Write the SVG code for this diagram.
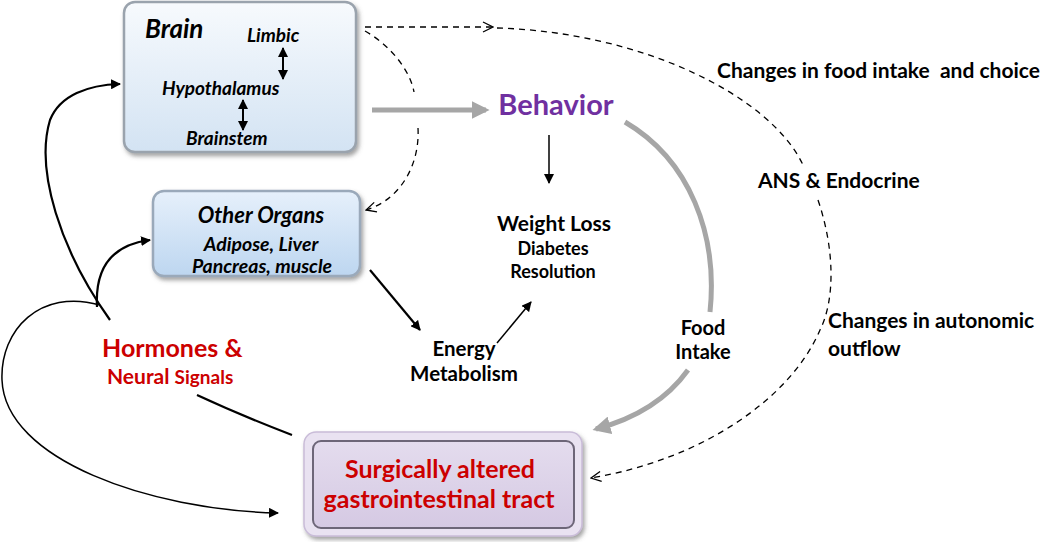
<svg xmlns="http://www.w3.org/2000/svg" width="1050" height="542" viewBox="0 0 1050 542">
<defs>
<linearGradient id="gBrain" x1="0" y1="0" x2="0" y2="1">
<stop offset="0" stop-color="#f7fafd"/><stop offset="1" stop-color="#d3e3f3"/>
</linearGradient>
<linearGradient id="gOrg" x1="0" y1="0" x2="0" y2="1">
<stop offset="0" stop-color="#e6f0fb"/><stop offset="1" stop-color="#bdd6f0"/>
</linearGradient>
<linearGradient id="gGI" x1="0" y1="0" x2="0" y2="1">
<stop offset="0" stop-color="#e4dcee"/><stop offset="1" stop-color="#d5c9e3"/>
</linearGradient>
<filter id="sh" x="-10%" y="-10%" width="125%" height="130%">
<feDropShadow dx="2" dy="3" stdDeviation="2" flood-color="#555" flood-opacity="0.55"/>
</filter>
<marker id="ab" viewBox="0 0 10 10" refX="9" refY="5" markerWidth="10" markerHeight="10" markerUnits="userSpaceOnUse" orient="auto">
<path d="M0,0 L10,5 L0,10 Z" fill="#000"/>
</marker>
<marker id="abs" viewBox="0 0 10 10" refX="9" refY="5" markerWidth="10" markerHeight="10" markerUnits="userSpaceOnUse" orient="auto-start-reverse">
<path d="M0,0 L10,5 L0,10 Z" fill="#000"/>
</marker>
<marker id="ag" viewBox="0 0 10 10" refX="8" refY="5" markerWidth="3.6" markerHeight="3.6" orient="auto">
<path d="M0,0 L10,5 L0,10 Z" fill="#a6a6a6"/>
</marker>
<marker id="ao" viewBox="0 0 12 12" refX="11" refY="6" markerWidth="12" markerHeight="12" markerUnits="userSpaceOnUse" orient="auto">
<path d="M1,1 L11,6 L1,11" fill="none" stroke="#000" stroke-width="1.3"/>
</marker>
<style>
text{font-family:Lato,"Liberation Sans",sans-serif;font-weight:bold;}
.bi{font-style:italic;fill:#000;}
.blk{fill:#000;}
.red{fill:#cc0000;}
.sol{fill:none;stroke:#000;stroke-width:2.2;}
.thin{fill:none;stroke:#000;stroke-width:1.5;}
.mid{fill:none;stroke:#000;stroke-width:2;}
.dash{fill:none;stroke:#000;stroke-width:1.3;stroke-dasharray:6,5;}
.gray{fill:none;stroke:#a6a6a6;stroke-width:5;}
</style>
</defs>

<g id="connectors">
<path class="gray" d="M372 110 L486 110" marker-end="url(#ag)"/>
<path class="gray" d="M625 122 C690 160 718 235 710 312"/>
<path class="gray" d="M688 370 C665 402 630 420 596 429" marker-end="url(#ag)"/>
<path class="thin" d="M549 135 L549 183" marker-end="url(#ab)"/>
<path class="sol" d="M370 270 L420 330" marker-end="url(#ab)"/>
<path class="thin" d="M497 343 L531 302" marker-end="url(#ab)"/>
<path class="sol" d="M110 320 C60 250 35 170 50 120 C60 95 88 85 120 84" marker-end="url(#ab)"/>
<path class="sol" d="M97 307 C95 270 110 245 150 240" marker-end="url(#ab)"/>
<path class="thin" d="M100 305 C40 288 0 330 2 380 C5 460 150 510 278 513" marker-end="url(#ab)"/>
<path class="sol" d="M197 395 Q240 415 292 435"/>
<path class="dash" d="M365 27 L493 27" marker-end="url(#ao)"/>
<path class="dash" d="M497 28 C640 32 770 95 803 165"/>
<path class="dash" d="M818 200 C835 250 835 300 820 330 C790 400 700 460 591 478" marker-end="url(#ao)"/>
<path class="dash" d="M365 31 C390 45 410 70 414 92"/>
<path class="dash" d="M418 128 C420 165 400 200 366 210" marker-end="url(#ao)"/>
</g>

<g id="brain">
<rect x="124" y="2" width="232" height="150" rx="11" fill="url(#gBrain)" stroke="#9aa3ad" stroke-width="2.5" filter="url(#sh)"/>
<text class="bi" x="145" y="38" font-size="26">Brain</text>
<text class="bi" x="247" y="42" font-size="19">Limbic</text>
<text class="bi" x="162" y="95" font-size="19">Hypothalamus</text>
<text class="bi" x="186" y="145" font-size="19">Brainstem</text>
<path class="mid" d="M283 48 L283 79" marker-start="url(#abs)" marker-end="url(#abs)"/>
<path class="mid" d="M243 100 L243 130" marker-start="url(#abs)" marker-end="url(#abs)"/>
</g>

<g id="other-organs">
<rect x="153" y="191" width="207" height="85" rx="11" fill="url(#gOrg)" stroke="#9aa9ba" stroke-width="2.5" filter="url(#sh)"/>
<text class="bi" x="261" y="223" font-size="22" text-anchor="middle">Other Organs</text>
<text class="bi" x="261" y="251" font-size="19.5" text-anchor="middle">Adipose, Liver</text>
<text class="bi" x="262" y="273" font-size="19.5" text-anchor="middle">Pancreas, muscle</text>
</g>

<g id="gi-tract">
<rect x="304" y="432" width="278" height="104" rx="12" fill="#e9e2f1" stroke="#c9bcd8" stroke-width="1.5" filter="url(#sh)"/>
<rect x="313" y="441" width="261" height="87" rx="8" fill="url(#gGI)" stroke="#6d6678" stroke-width="2"/>
<text class="red" x="440" y="478" font-size="25" text-anchor="middle">Surgically altered</text>
<text class="red" x="439" y="508" font-size="25" text-anchor="middle">gastrointestinal tract</text>
</g>

<g id="behavior">
<text x="556" y="115" font-size="29" text-anchor="middle" fill="#7030a0">Behavior</text>
</g>

<g id="weight-loss">
<text class="blk" x="554" y="231" font-size="21" text-anchor="middle">Weight Loss</text>
<text class="blk" x="553" y="255" font-size="18" text-anchor="middle">Diabetes</text>
<text class="blk" x="553" y="278" font-size="18" text-anchor="middle">Resolution</text>
</g>

<g id="energy-metabolism">
<text class="blk" x="464" y="356" font-size="20.5" text-anchor="middle">Energy</text>
<text class="blk" x="464" y="381" font-size="20.5" text-anchor="middle">Metabolism</text>
</g>

<g id="hormones">
<text class="red" x="102" y="357" font-size="25">Hormones &amp;</text>
<text class="red" x="107" y="384" font-size="21">Neural <tspan font-size="19">Signals</tspan></text>
</g>

<g id="labels">
<text class="blk" x="703" y="335" font-size="20" text-anchor="middle">Food</text>
<text class="blk" x="703" y="359" font-size="20" text-anchor="middle">Intake</text>
<text class="blk" x="717" y="78" font-size="21">Changes in food intake&#160; and choice</text>
<text class="blk" x="758" y="188" font-size="21">ANS &amp; Endocrine</text>
<text class="blk" x="828" y="328" font-size="21">Changes in autonomic</text>
<text class="blk" x="828" y="356" font-size="21">outflow</text>
</g>
</svg>
